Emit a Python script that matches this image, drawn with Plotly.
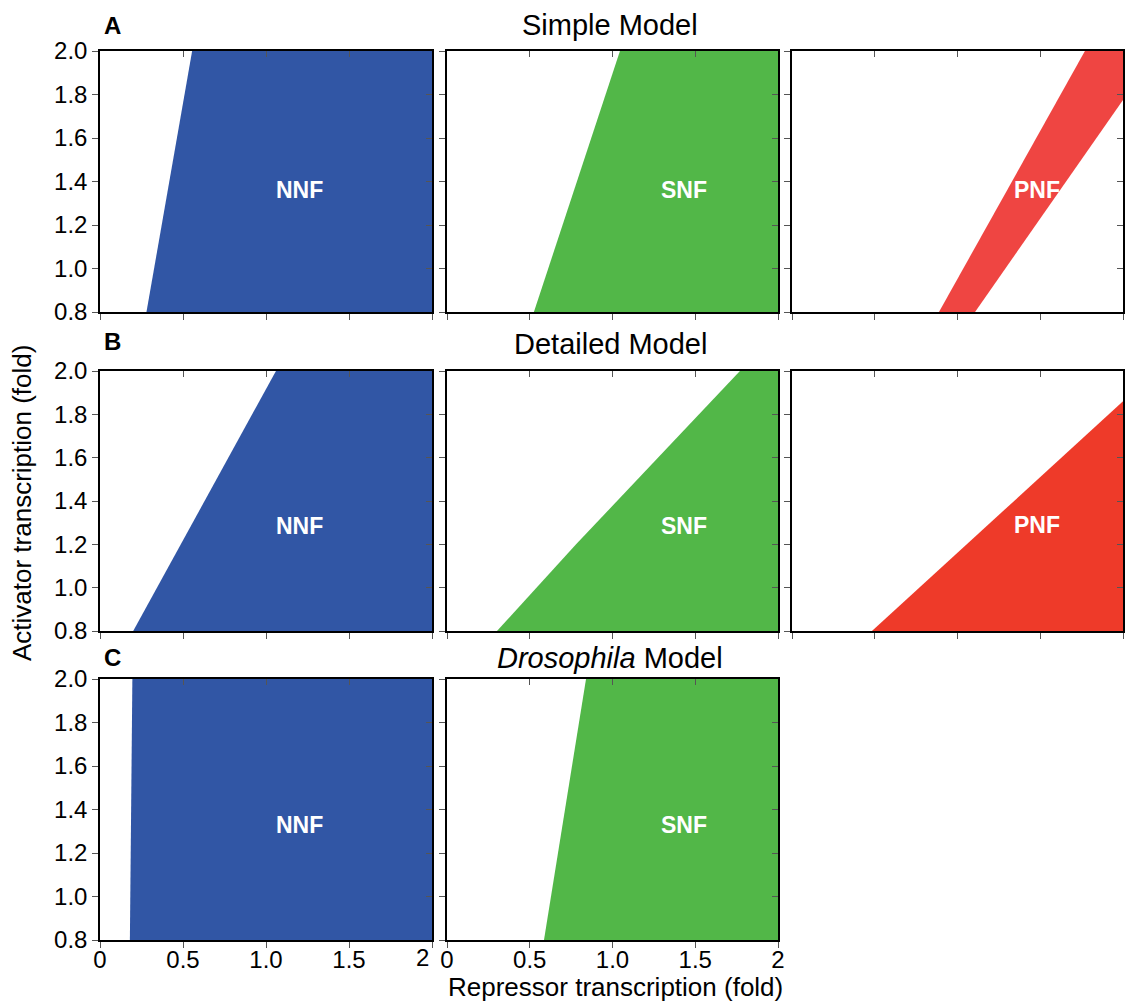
import plotly.graph_objects as go

# ---------------- data ----------------
x_tick_vals = [0, 0.5, 1.0, 1.5, 2.0]
x_tick_text = ["0", "0.5", "1.0", "1.5", "2"]
y_tick_vals = [0.8, 1.0, 1.2, 1.4, 1.6, 1.8, 2.0]
y_tick_text = ["0.8", "1.0", "1.2", "1.4", "1.6", "1.8", "2.0"]

row_titles = ["Simple Model", "Detailed Model", "<i>Drosophila</i> Model"]
row_letters = ["A", "B", "C"]
axis_x_title = "Repressor transcription (fold)"
axis_y_title = "Activator transcription (fold)"

# region boundaries (repressor fold, activator fold)
simple_nnf_x = [0.28, 0.555, 2.0, 2.0]
simple_nnf_y = [0.8, 2.0, 2.0, 0.8]
simple_snf_x = [0.525, 1.045, 2.0, 2.0]
simple_snf_y = [0.8, 2.0, 2.0, 0.8]
simple_pnf_x = [0.888, 1.77, 2.0, 2.0, 1.106]
simple_pnf_y = [0.8, 2.0, 2.0, 1.775, 0.8]

detailed_nnf_x = [0.2, 1.06, 2.0, 2.0]
detailed_nnf_y = [0.8, 2.0, 2.0, 0.8]
detailed_snf_x = [0.302, 0.78, 1.77, 2.0, 2.0]
detailed_snf_y = [0.8, 1.2, 2.0, 2.0, 0.8]
detailed_pnf_x = [0.483, 1.32, 2.0, 2.0]
detailed_pnf_y = [0.8, 1.385, 1.86, 0.8]

dros_nnf_x = [0.18, 0.195, 2.0, 2.0]
dros_nnf_y = [0.8, 2.0, 2.0, 0.8]
dros_snf_x = [0.586, 0.84, 2.0, 2.0]
dros_snf_y = [0.8, 2.0, 2.0, 0.8]

region_labels = ["NNF", "SNF", "PNF", "NNF", "SNF", "PNF", "NNF", "SNF"]
label_x = [1.2, 1.43, 1.48, 1.2, 1.43, 1.48, 1.2, 1.43]
label_y = [1.36, 1.36, 1.36, 1.285, 1.285, 1.29, 1.33, 1.33]

# ---------------- styling ----------------
W, H = 1128, 1003
BLUE = "rgb(49,86,165)"
GREEN = "rgb(82,183,72)"
RED_A = "rgb(239,69,66)"
RED_B = "rgb(238,58,41)"
FONT = "Liberation Sans, Arial, Helvetica, sans-serif"

cols_px = [(100, 432), (447, 778), (792, 1123)]
rows_px = [(51, 312), (371, 631), (679, 940)]

panels = [
    (0, 0, simple_nnf_x, simple_nnf_y, BLUE),
    (0, 1, simple_snf_x, simple_snf_y, GREEN),
    (0, 2, simple_pnf_x, simple_pnf_y, RED_A),
    (1, 0, detailed_nnf_x, detailed_nnf_y, BLUE),
    (1, 1, detailed_snf_x, detailed_snf_y, GREEN),
    (1, 2, detailed_pnf_x, detailed_pnf_y, RED_B),
    (2, 0, dros_nnf_x, dros_nnf_y, BLUE),
    (2, 1, dros_snf_x, dros_snf_y, GREEN),
]
N = len(panels)


def px_x(p):
    return p / W


def px_y(p):
    return 1 - p / H


def ax(i):
    return "" if i == 1 else str(i)


fig = go.Figure()
layout = dict(
    width=W, height=H,
    margin=dict(l=0, r=0, t=0, b=0, autoexpand=False),
    paper_bgcolor="white", plot_bgcolor="white",
    showlegend=False, hovermode=False,
    font=dict(family=FONT, color="black"),
)
annotations = []

common = dict(showgrid=False, zeroline=False, linecolor="black", linewidth=1.5,
              tickcolor="#555", ticklen=6, tickwidth=1, automargin=False,
              tickfont=dict(size=24, family=FONT, color="black"))

for k, (r, c, xs, ys, color) in enumerate(panels, start=1):
    x0, x1 = cols_px[c]
    y0, y1 = rows_px[r]
    xd = [px_x(x0), px_x(x1)]
    yd = [px_y(y1), px_y(y0)]
    bottom_row = (r == 2)
    left_col = (c == 0)
    xt = list(x_tick_text)
    if c == 0 and bottom_row:
        # last label of the first column is drawn right-aligned below (see annotation)
        xt[-1] = ""
        annotations.append(dict(
            x=x_tick_vals[-1], y=px_y(957), xref="x" + ax(k), yref="paper",
            text=x_tick_text[-1], showarrow=False, xanchor="right", yanchor="middle",
            xshift=-1, font=dict(size=24, color="black", family=FONT)))

    layout["xaxis" + ax(k)] = dict(
        domain=xd, anchor="y" + ax(k), range=[0, 2],
        tickmode="array", tickvals=x_tick_vals, ticktext=xt,
        ticks="outside", showticklabels=bottom_row, showline=True,
        ticklabelstandoff=-9,
        fixedrange=True, **common)
    layout["yaxis" + ax(k)] = dict(
        domain=yd, anchor="x" + ax(k), range=[0.8, 2.0],
        tickmode="array", tickvals=y_tick_vals, ticktext=y_tick_text,
        ticks="outside", showticklabels=left_col, showline=True,
        fixedrange=True, **common)
    # mirrored top / right axes with inward ticks
    kt = N + k
    layout["xaxis" + ax(kt)] = dict(
        overlaying="x" + ax(k), anchor="y" + ax(k), side="top", range=[0, 2],
        tickmode="array", tickvals=x_tick_vals, ticks="inside",
        showticklabels=False, showline=True, fixedrange=True, **common)
    layout["yaxis" + ax(kt)] = dict(
        overlaying="y" + ax(k), anchor="x" + ax(k), side="right", range=[0.8, 2.0],
        tickmode="array", tickvals=y_tick_vals, ticks="inside",
        showticklabels=False, showline=True, fixedrange=True, **common)

    fig.add_trace(go.Scatter(
        x=xs, y=ys, fill="toself", fillcolor=color, mode="lines",
        line=dict(width=0, color=color), hoverinfo="skip",
        xaxis="x" + ax(k), yaxis="y" + ax(k)))
    fig.add_trace(go.Scatter(x=[None], y=[None], xaxis="x" + ax(kt), yaxis="y" + ax(k),
                             hoverinfo="skip"))
    fig.add_trace(go.Scatter(x=[None], y=[None], xaxis="x" + ax(k), yaxis="y" + ax(kt),
                             hoverinfo="skip"))

    annotations.append(dict(
        x=label_x[k - 1], y=label_y[k - 1], xref="x" + ax(k), yref="y" + ax(k),
        text="<b>" + region_labels[k - 1] + "</b>", showarrow=False,
        font=dict(size=23, color="white", family=FONT)))

# row titles and letters
title_y_px = [25, 344, 658]
letter_y_px = [26, 341, 657]
for i in range(3):
    annotations.append(dict(
        x=px_x(610), y=px_y(title_y_px[i]), xref="paper", yref="paper",
        text=row_titles[i], showarrow=False, xanchor="center", yanchor="middle",
        font=dict(size=29, color="black", family=FONT)))
    annotations.append(dict(
        x=px_x(112), y=px_y(letter_y_px[i]), xref="paper", yref="paper",
        text="<b>" + row_letters[i] + "</b>", showarrow=False,
        xanchor="center", yanchor="middle",
        font=dict(size=24, color="black", family=FONT)))

# axis titles
annotations.append(dict(
    x=px_x(615), y=px_y(987), xref="paper", yref="paper", text=axis_x_title,
    showarrow=False, xanchor="center", yanchor="middle",
    font=dict(size=26, color="black", family=FONT)))
annotations.append(dict(
    x=px_x(22), y=px_y(503), xref="paper", yref="paper", text=axis_y_title,
    showarrow=False, xanchor="center", yanchor="middle", textangle=-90,
    font=dict(size=26, color="black", family=FONT)))

layout["annotations"] = annotations
fig.update_layout(**layout)
fig.write_html(
    "out.html",
    config={"displayModeBar": False},
    post_script="document.body.style.margin='0';document.body.style.padding='0';"
                "document.documentElement.style.overflow='hidden';",
)
